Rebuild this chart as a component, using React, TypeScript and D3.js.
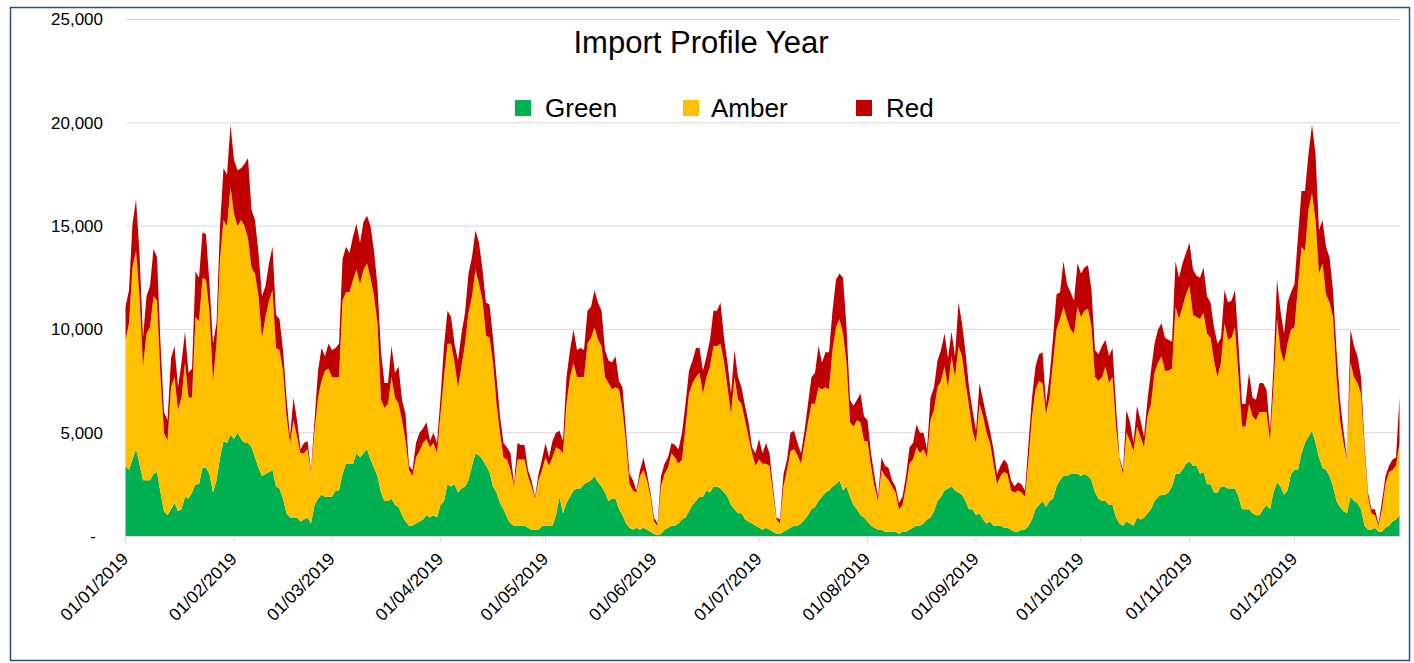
import React from 'react'
import * as d3 from 'd3'

// one point per day through 2019
const startDate = new Date(Date.UTC(2019, 0, 1))
const endDate = new Date(Date.UTC(2020, 0, 1))
const days = d3.utcDay.range(startDate, endDate)
const monthTicks = d3.utcMonth.range(startDate, endDate)
const yTicks = [0, 5000, 10000, 15000, 20000, 25000]

const seriesKeys = ['Green', 'Amber', 'Red']
const seriesColors = ['#00B050', '#FFC000', '#C00000']

const green = [
  3400, 3200, 3700, 4200, 3500, 2700, 2700, 2700, 3000, 3100,
  2100, 1200, 1000, 1300, 1600, 1200, 1300, 1900, 1800, 2100,
  2500, 2500, 3300, 3300, 3000, 2100, 2700, 3800, 4600, 4500,
  4900, 4700, 5000, 4700, 4500, 4500, 4300, 3800, 3300, 2900,
  3000, 3100, 3200, 2400, 2300, 1800, 1100, 900, 900, 900,
  700, 800, 900, 600, 1500, 1800, 2000, 1900, 1900, 1900,
  2200, 2200, 3000, 3500, 3500, 3500, 4000, 3800, 4000, 4200,
  3700, 3300, 2900, 2100, 1700, 1700, 1800, 1500, 1400, 1000,
  700, 500, 500, 600, 700, 800, 1000, 900, 1000, 900,
  1500, 1700, 2500, 2400, 2500, 2100, 2300, 2400, 2700, 3400,
  4000, 3900, 3700, 3400, 3100, 2400, 2100, 1600, 1300, 900,
  600, 500, 500, 500, 500, 400, 300, 300, 300, 500,
  500, 500, 500, 1000, 1900, 1100, 1600, 1900, 2200, 2300,
  2300, 2500, 2600, 2700, 2900, 2600, 2400, 2100, 1700, 1800,
  1800, 1300, 1000, 600, 400, 300, 400, 300, 400, 300,
  200, 100, 50, 100, 300, 400, 500, 500, 600, 800,
  900, 1200, 1500, 1700, 1900, 1900, 2200, 2100, 2400, 2400,
  2300, 2100, 1900, 1500, 1300, 1100, 1100, 800, 700, 600,
  500, 400, 300, 400, 300, 200, 100, 100, 200, 300,
  400, 500, 500, 600, 800, 1000, 1300, 1400, 1700, 1900,
  2100, 2200, 2400, 2500, 2700, 2200, 2400, 1900, 1500, 1300,
  1000, 900, 700, 500, 400, 300, 300, 200, 200, 200,
  200, 100, 200, 200, 300, 400, 500, 500, 600, 800,
  900, 1200, 1700, 1900, 2200, 2300, 2400, 2200, 2100, 2000,
  1700, 1300, 1300, 1000, 1100, 800, 600, 700, 500, 500,
  500, 400, 400, 300, 200, 200, 300, 300, 500, 800,
  1300, 1500, 1700, 1400, 1700, 1800, 2400, 2700, 2900, 2900,
  3000, 3000, 3000, 2900, 3000, 2900, 2700, 2100, 1800, 1700,
  1700, 1500, 1500, 900, 600, 500, 700, 600, 500, 900,
  800, 900, 1100, 1300, 1700, 1900, 2000, 2000, 2100, 2400,
  3000, 3000, 3200, 3500, 3600, 3400, 3400, 3000, 3100, 2500,
  2500, 2100, 2100, 2400, 2400, 2300, 2300, 2300, 1900, 1300,
  1300, 1300, 1100, 1000, 1000, 1300, 1500, 1300, 2100, 2600,
  2400, 2000, 2200, 3000, 3200, 3200, 4000, 4500, 4800, 5100,
  4500, 3800, 3300, 3200, 2900, 2400, 1700, 1400, 1200, 1100,
  1900, 1700, 1600, 1300, 500, 300, 300, 400, 200, 200,
  400, 500, 700, 800, 1000,
]

const amber = [
  6100, 7100, 9300, 9600, 8100, 5500, 7100, 7400, 8600, 8300,
  5600, 3800, 3600, 5900, 6100, 4900, 5400, 6500, 4900, 4600,
  8100, 7900, 9200, 9100, 7800, 5400, 6600, 9600, 10700, 10500,
  12000, 10900, 10000, 10600, 10500, 9900, 8700, 8900, 8300, 6700,
  7600, 8300, 8700, 6700, 6700, 6200, 4700, 3600, 4700, 3900,
  3300, 3200, 3300, 2500, 3600, 4900, 5500, 6100, 6200, 5800,
  5500, 5500, 8400, 8300, 8300, 8900, 8900, 8400, 8900, 9000,
  8800, 8300, 7400, 4500, 4500, 4700, 5900, 5200, 5000, 4600,
  3900, 2700, 2400, 3200, 3400, 3700, 3700, 3400, 3500, 3100,
  4400, 6000, 6800, 6900, 5900, 5100, 5900, 6900, 8100, 8200,
  8900, 8300, 7700, 6300, 6500, 6000, 4300, 3400, 2500, 2800,
  2600, 1900, 3200, 3200, 3200, 2500, 2100, 1500, 2400, 2700,
  3300, 2900, 3300, 3300, 2300, 2900, 4800, 5800, 6200, 5400,
  5400, 5200, 6700, 6900, 7200, 6900, 6800, 5600, 5700, 5300,
  5400, 5800, 5100, 3900, 2100, 1900, 1700, 2600, 2800, 2400,
  1700, 600, 450, 2300, 2700, 2900, 3500, 3300, 2900, 2900,
  4400, 5700, 5900, 6000, 6000, 5000, 5500, 6100, 6800, 6800,
  7000, 6300, 5300, 4400, 6400, 5500, 5300, 4800, 4100, 3400,
  2900, 3300, 3200, 3100, 3100, 1900, 700, 500, 2200, 2900,
  3700, 3700, 3400, 2900, 3700, 4500, 5100, 5000, 5500, 5200,
  5100, 4900, 6600, 7600, 7800, 7600, 6000, 3600, 3800, 4300,
  4500, 3700, 3900, 2900, 2000, 1400, 2900, 2700, 2500, 2200,
  1900, 1200, 1300, 2200, 3200, 3300, 3800, 3500, 3600, 3000,
  4700, 4900, 5500, 5600, 6000, 4900, 6300, 5500, 7100, 6700,
  5700, 5000, 3800, 3500, 5300, 5000, 4400, 3800, 3000, 2000,
  2400, 2700, 2600, 1900, 1900, 2000, 1800, 1600, 3200, 5000,
  5800, 6000, 5700, 4500, 5000, 6600, 7600, 7800, 8200, 7600,
  7000, 6800, 8100, 7700, 7900, 8100, 7400, 5600, 5700, 6000,
  6500, 5900, 6200, 4400, 3100, 2500, 4300, 4000, 3600, 4400,
  4000, 3400, 4700, 5100, 6200, 6500, 6700, 6000, 5900, 5700,
  8100, 7500, 7900, 8200, 8500, 7300, 7200, 7500, 7700, 7300,
  7100, 6400, 5600, 6000, 7900, 7200, 7300, 7800, 5800, 4000,
  4000, 5100, 4700, 4600, 5000, 4700, 4500, 3300, 5100, 7900,
  6600, 6400, 7100, 7000, 6900, 8900, 10000, 9300, 11000, 11500,
  10800, 8900, 9900, 8500, 8400, 8200, 6000, 4200, 3300, 2600,
  6500, 6000, 5800, 5600, 3700, 1600, 800, 600, 300, 1100,
  2100, 2600, 2500, 2600, 3500,
]

const red = [
  1600, 1600, 2100, 2500, 2100, 1400, 1800, 2000, 2300, 2100,
  1600, 1000, 1000, 1400, 1500, 1100, 1700, 1500, 1200, 1400,
  2200, 2100, 2200, 2200, 1400, 1800, 1000, 1600, 2500, 2500,
  3000, 2600, 2700, 2500, 3000, 3900, 2800, 2600, 2100, 2000,
  1500, 1800, 2100, 1600, 1500, 1000, 900, 300, 1100, 800,
  200, 500, 400, 100, 500, 1300, 1600, 700, 1200, 1300,
  1400, 1600, 2000, 2200, 1900, 2100, 2200, 2000, 2300, 2300,
  2500, 2200, 1800, 2300, 1200, 1000, 1500, 1200, 1800, 1000,
  1300, 200, 300, 700, 900, 700, 800, 300, 500, 500,
  800, 1500, 1600, 1300, 900, 1300, 1600, 1500, 1900, 1900,
  1900, 2000, 1500, 1600, 1600, 1200, 1300, 800, 700, 600,
  800, 100, 800, 700, 700, 300, 300, 100, 300, 500,
  700, 400, 800, 700, 900, 600, 1300, 1300, 1600, 1300,
  1400, 1300, 1600, 1500, 1800, 1800, 1700, 1300, 1100, 1300,
  1500, 400, 1100, 600, 500, 500, 100, 300, 600, 300,
  200, 200, 100, 500, 500, 500, 500, 600, 700, 1300,
  1100, 1100, 1100, 1400, 1200, 1100, 1000, 1300, 1700, 1700,
  2000, 1200, 1200, 1000, 1300, 1100, 800, 700, 700, 300,
  600, 1000, 500, 1000, 600, 300, 100, 200, 600, 500,
  900, 900, 600, 500, 600, 900, 1300, 1500, 2000, 1300,
  1700, 1800, 1900, 2300, 2200, 2700, 1700, 1100, 1000, 1000,
  1400, 1200, 1000, 600, 500, 200, 600, 500, 600, 300,
  300, 300, 400, 500, 800, 800, 1100, 1000, 800, 400,
  1100, 1100, 1300, 1500, 1600, 1400, 1200, 1000, 2100, 1600,
  1500, 900, 1000, 600, 1000, 800, 800, 600, 700, 500,
  500, 600, 500, 500, 300, 400, 400, 300, 800, 900,
  1100, 1300, 1500, 500, 1000, 1200, 1700, 1300, 2200, 1700,
  1800, 1600, 2100, 2100, 2100, 2100, 1800, 1300, 1300, 1500,
  1300, 1300, 1400, 1000, 100, 200, 1100, 900, 400, 1000,
  800, 500, 800, 1600, 1400, 1600, 1600, 1600, 1500, 1300,
  2200, 2000, 2100, 2000, 2100, 2200, 2000, 2000, 2200, 1800,
  1700, 1600, 1600, 1200, 1600, 1800, 1800, 1800, 1600, 1100,
  1100, 1500, 900, 1000, 1400, 1400, 1100, 500, 1000, 1900,
  1900, 1400, 2000, 1800, 2100, 2400, 2700, 2900, 2700, 3300,
  3200, 2100, 2100, 2300, 2200, 1300, 1300, 1000, 600, 100,
  1600, 1500, 1300, 800, 300, 200, 200, 300, 100, 400,
  400, 300, 500, 400, 2200,
]

const FONT = "'Liberation Sans', Arial, sans-serif"

export default function App() {
  const width = 1414
  const height = 663
  const left = 125.5
  const right = 1399.5
  const bottom = 536
  const top = 19.5

  const x = d3.scaleUtc().domain([days[0], days[days.length - 1]]).range([left, right])
  const y = d3.scaleLinear().domain([0, 25000]).range([bottom, top])

  const rows = days.map((d, i) => ({ date: d, Green: green[i], Amber: amber[i], Red: red[i] }))
  const stacked = d3.stack<any>().keys(seriesKeys)(rows)
  const area = d3.area<any>()
    .x(d => x(d.data.date))
    .y0(d => y(d[0]))
    .y1(d => y(d[1]))

  const fmt = d3.format(',')
  const dateFmt = d3.utcFormat('%d/%m/%Y')

  // legend layout
  const legendX = [515, 683, 856]
  const legendTextDx = [30, 28, 30]

  return (
    <svg width={width} height={height} style={{ position: 'absolute', left: 0, top: 0, background: '#fff' }}>
      <rect x={10.5} y={7.5} width={1399} height={653} fill="#fff" stroke="#2F4C8A" strokeWidth={1.5} />

      {/* gridlines + y labels */}
      {yTicks.map(t => (
        <g key={t}>
          {t > 0 && <line x1={left} x2={right} y1={y(t)} y2={y(t)} stroke="#D9D9D9" strokeWidth={1} />}
          <text
            x={t === 0 ? 96 : 103}
            y={y(t)}
            dy="0.35em"
            textAnchor="end"
            fontFamily={FONT}
            fontSize={17}
            fill="#000"
          >
            {t === 0 ? '-' : fmt(t)}
          </text>
        </g>
      ))}

      {/* stacked areas */}
      {stacked.map((s, i) => (
        <path key={s.key} d={area(s) || ''} fill={seriesColors[i]} />
      ))}

      {/* x axis */}
      <line x1={left} x2={right} y1={bottom + 0.5} y2={bottom + 0.5} stroke="#D9D9D9" strokeWidth={1} />
      {monthTicks.map(m => (
        <g key={m.toISOString()}>
          <line x1={x(m)} x2={x(m)} y1={bottom} y2={bottom + 6} stroke="#D9D9D9" strokeWidth={1} />
          <text
            transform={`translate(${x(m) + 4},${bottom + 24}) rotate(-45)`}
            textAnchor="end"
            fontFamily={FONT}
            fontSize={17.5}
            fill="#000"
          >
            {dateFmt(m)}
          </text>
        </g>
      ))}

      {/* title */}
      <text x={701} y={53} textAnchor="middle" fontFamily={FONT} fontSize={31} fill="#000">
        Import Profile Year
      </text>

      {/* legend */}
      {seriesKeys.map((k, i) => (
        <g key={k} transform={`translate(${legendX[i]},100)`}>
          <rect x={0} y={0} width={16} height={16} fill={seriesColors[i]} />
          <text x={legendTextDx[i]} y={17} fontFamily={FONT} fontSize={26} fill="#000">
            {k}
          </text>
        </g>
      ))}
    </svg>
  )
}
